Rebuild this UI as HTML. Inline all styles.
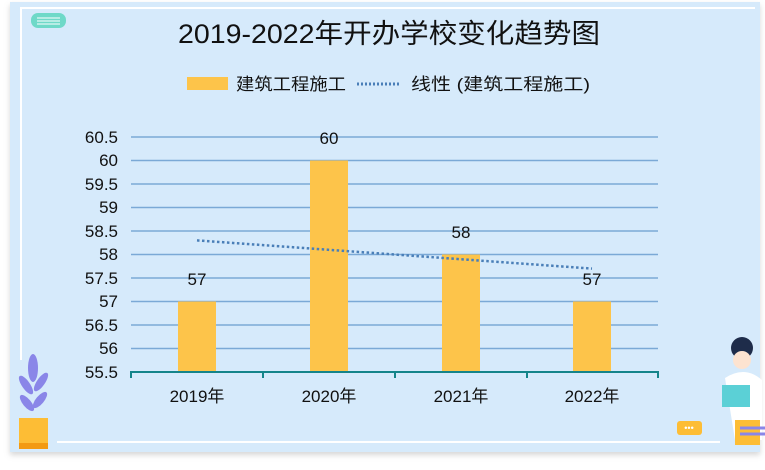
<!DOCTYPE html>
<html><head><meta charset="utf-8"><style>
body{margin:0;width:765px;height:465px;background:#fff;overflow:hidden;font-family:"Liberation Sans","Noto Sans CJK SC",sans-serif;}
</style></head><body>
<svg width="765" height="465" xmlns="http://www.w3.org/2000/svg" font-family="Liberation Sans, Noto Sans CJK SC, sans-serif">
<defs><filter id="s"><feDropShadow dx="0" dy="3" stdDeviation="3" flood-color="#999" flood-opacity="0.4"/></filter></defs>
<rect x="10" y="2" width="750" height="450" fill="#d6eafb" filter="url(#s)"/>
<path d="M21 360 V8 H755" stroke="#fff" stroke-width="2" fill="none"/>
<path d="M57 442 H720" stroke="#fff" stroke-width="2" fill="none"/>
<rect x="31" y="13" width="35" height="15" rx="7" fill="#6fd9c8"/>
<path d="M37 18H60M37 21H60M37 24H60" stroke="#fff" stroke-width="1"/>
<text x="389" y="43" font-size="27" text-anchor="middle" fill="#111" textLength="422" lengthAdjust="spacingAndGlyphs">2019-2022年开办学校变化趋势图</text>
<rect x="187" y="77" width="41" height="13" fill="#fdc44a"/>
<text x="236" y="90" font-size="17" fill="#111" textLength="110" lengthAdjust="spacingAndGlyphs">建筑工程施工</text>
<line x1="357" y1="84" x2="401" y2="84" stroke="#4a7fb8" stroke-width="3" stroke-dasharray="2,2"/>
<text x="411" y="90" font-size="17" fill="#111" textLength="179" lengthAdjust="spacingAndGlyphs">线性 (建筑工程施工)</text>
<g stroke="#7ba9d6" stroke-width="1.5">
<line x1="131" x2="658" y1="137" y2="137"/><line x1="131" x2="658" y1="160.5" y2="160.5"/>
<line x1="131" x2="658" y1="184" y2="184"/><line x1="131" x2="658" y1="207.5" y2="207.5"/>
<line x1="131" x2="658" y1="231" y2="231"/><line x1="131" x2="658" y1="254.5" y2="254.5"/>
<line x1="131" x2="658" y1="278" y2="278"/><line x1="131" x2="658" y1="301.5" y2="301.5"/>
<line x1="131" x2="658" y1="325" y2="325"/><line x1="131" x2="658" y1="348.5" y2="348.5"/>
</g>
<g font-size="17" fill="#111" text-anchor="end">
<text x="118" y="143">60.5</text><text x="118" y="166">60</text><text x="118" y="190">59.5</text>
<text x="118" y="213">59</text><text x="118" y="237">58.5</text><text x="118" y="260">58</text>
<text x="118" y="284">57.5</text><text x="118" y="307">57</text><text x="118" y="331">56.5</text>
<text x="118" y="354">56</text><text x="118" y="378">55.5</text>
</g>
<g fill="#fdc44a">
<rect x="178" y="301.5" width="38" height="70.5"/>
<rect x="310" y="160.5" width="38" height="211.5"/>
<rect x="442" y="254.5" width="38" height="117.5"/>
<rect x="573" y="301.5" width="38" height="70.5"/>
</g>
<line x1="197" y1="240.4" x2="592" y2="268.6" stroke="#4a7fb8" stroke-width="2.5" stroke-dasharray="2.5,2.5"/>
<path d="M131 378V372H658V378M263 372V378M395 372V378M527 372V378" stroke="#15848a" stroke-width="2" fill="none"/>
<g font-size="17" fill="#111" text-anchor="middle">
<text x="197" y="285">57</text><text x="329" y="144">60</text><text x="461" y="238">58</text><text x="592" y="285">57</text>
<text x="197" y="402">2019年</text><text x="329" y="402">2020年</text><text x="461" y="402">2021年</text><text x="592" y="402">2022年</text>
</g>
<g fill="#8a86e8">
<ellipse cx="33" cy="368" rx="5" ry="14"/><ellipse cx="26" cy="385" rx="4" ry="11" transform="rotate(-35 26 385)"/>
<ellipse cx="41" cy="382" rx="4" ry="11" transform="rotate(35 41 382)"/><ellipse cx="27" cy="403" rx="4" ry="10" transform="rotate(-40 27 403)"/>
<ellipse cx="40" cy="400" rx="4" ry="10" transform="rotate(40 40 400)"/>
</g>
<rect x="19" y="418" width="29" height="25" fill="#fdbd35"/><rect x="19" y="443" width="29" height="6" fill="#f39a12"/>
<rect x="677" y="421" width="25" height="14" rx="3" fill="#fdbd35"/>
<text x="689" y="431" font-size="9" fill="#fff" text-anchor="middle">•••</text>
<circle cx="742" cy="348" r="11" fill="#1e2c4a"/><circle cx="742" cy="360" r="9" fill="#fde3d0"/>
<path d="M725 378 Q745 365 762 380 V440 H735 Z" fill="#fff"/>
<rect x="722" y="385" width="28" height="22" fill="#5bd0d6"/>
<rect x="735" y="420" width="25" height="25" fill="#fdbd35"/>
<path d="M740 428H765M740 434H765" stroke="#8a86e8" stroke-width="3"/>
</svg>
</body></html>
